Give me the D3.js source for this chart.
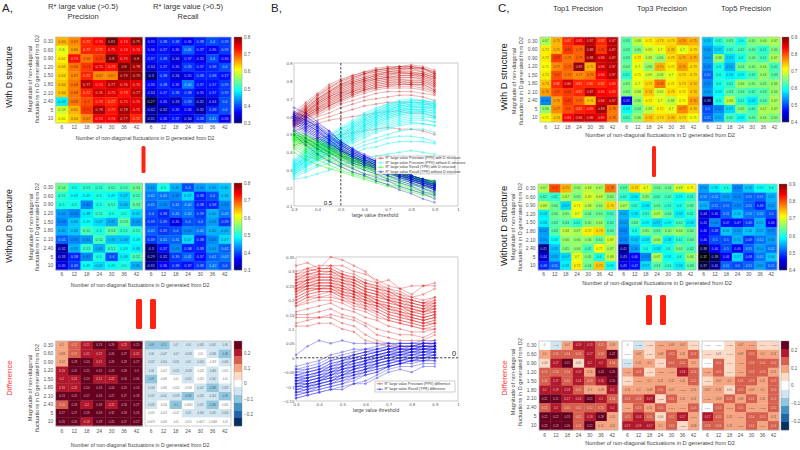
<!DOCTYPE html>
<html>
<head>
<meta charset="utf-8">
<script src="https://cdn.jsdelivr.net/npm/d3@7"></script>
<style>
html, body { margin: 0; padding: 0; background: #fff; }
svg { display: block; }
text { font-family: "Liberation Sans", Arial, sans-serif; }
</style>
</head>
<body>
<svg id="fig" width="800" height="450"></svg>
<script>
const xCats = [6, 12, 18, 24, 30, 36, 42];
const yCats = ["0.30", "0.60", "0.90", "1.20", "1.50", "1.80", "2.10", "2.40", "5", "10"];

// panel A
const aPrecWith = [[.65,.67,.72,.74,.81,.74,.79],[.6,.66,.72,.72,.75,.74,.74],[.62,.73,.68,.71,.8,.75,.8],[.63,.68,.71,.75,.73,.8,.78],[.63,.67,.72,.67,.67,.79,.79],[.64,.68,.77,.74,.77,.76,.75],[.64,.68,.72,.76,.75,.73,.77],[.48,.68,.7,.73,.72,.75,.75],[.59,.65,.71,.78,.73,.78,.75],[.61,.64,.67,.74,.74,.77,.72]];
const aRecWith = [[.35,.38,.38,.36,.38,.4,.39],[.36,.37,.36,.41,.37,.36,.39],[.37,.38,.34,.37,.35,.4,.36],[.34,.37,.35,.39,.37,.38,.4],[.3,.38,.34,.35,.38,.38,.37],[.36,.38,.36,.42,.37,.37,.39],[.34,.37,.38,.38,.35,.37,.39],[.27,.35,.33,.39,.32,.34,.4],[.32,.32,.36,.36,.32,.38,.4],[.31,.36,.37,.34,.38,.41,.36]];
const aPrecWithout = [[.54,.5,.51,.51,.52,.52,.54],[.51,.49,.49,.5,.49,.47,.52],[.5,.5,.43,.5,.51,.46,.53],[.44,.43,.48,.51,.5,.5,.47],[.43,.46,.49,.47,.45,.53,.44],[.45,.46,.52,.5,.53,.51,.51],[.41,.43,.44,.52,.46,.46,.49],[.32,.45,.51,.45,.51,.49,.48],[.33,.38,.43,.5,.4,.48,.52],[.35,.39,.49,.47,.49,.5,.45]];
const aRecWithout = [[.44,.5,.45,.4,.44,.45,.46],[.42,.42,.43,.47,.38,.4,.46],[.41,.43,.41,.42,.38,.38,.43],[.4,.38,.41,.42,.39,.45,.42],[.39,.39,.35,.4,.4,.44,.39],[.41,.39,.4,.43,.42,.45,.45],[.39,.41,.41,.47,.38,.43,.47],[.3,.37,.43,.38,.38,.44,.41],[.29,.32,.39,.41,.37,.41,.42],[.31,.36,.38,.37,.39,.42,.4]];
const aPrecDiff = [[.1,.17,.21,.23,.29,.22,.25],[.088,.17,.22,.22,.26,.27,.22],[.12,.23,.24,.21,.29,.29,.27],[.19,.25,.25,.25,.23,.29,.3],[.2,.21,.23,.21,.22,.26,.34],[.19,.22,.24,.24,.24,.25,.24],[.23,.25,.27,.24,.27,.27,.28],[.16,.23,.2,.28,.22,.26,.27],[.27,.27,.28,.29,.32,.29,.23],[.26,.25,.18,.28,.25,.27,.27]];
const aRecDiff = [[-.09,-.11,-.07,-.04,-.065,-.045,-.06],[-.06,-.047,-.07,-.058,-.01,-.036,-.08],[-.047,-.054,-.061,-.05,-.045,-.019,-.044],[-.06,-.012,-.052,-.028,-.018,-.066,-.025],[-.09,-.009,-.01,-.052,-.019,-.062,-.02],[-.049,-.005,-.024,-.018,-.047,-.086,-.059],[-.047,-.041,-.028,-.086,-.035,-.054,-.08],[-.035,-.016,-.1,-.0063,-.057,-.086,-.005],[.024,-.013,-.021,-.05,-.049,-.031,-.026],[.0075,-.005,-.01,-.025,-.0057,-.0083,-.02]];

// panel C
const top1With = [[.67,.75,.82,.85,.87,.82,.87],[.72,.75,.81,.79,.88,.81,.87],[.72,.81,.78,.79,.88,.86,.87],[.71,.77,.79,.89,.75,.86,.87],[.72,.8,.78,.77,.78,.84,.87],[.74,.82,.86,.82,.82,.82,.83],[.76,.8,.81,.82,.87,.84,.83],[.53,.76,.81,.79,.74,.86,.87],[.66,.77,.8,.82,.83,.88,.78],[.71,.74,.84,.86,.86,.85,.78]];
const top3With = [[.63,.68,.72,.73,.73,.76,.75],[.63,.65,.69,.7,.74,.7,.73],[.63,.72,.68,.66,.73,.75,.75],[.64,.7,.66,.75,.72,.76,.73],[.61,.71,.69,.68,.7,.73,.73],[.65,.7,.73,.78,.72,.73,.74],[.65,.68,.74,.69,.73,.72,.74],[.45,.66,.72,.7,.68,.71,.76],[.59,.64,.68,.72,.7,.77,.74],[.62,.66,.74,.73,.74,.73,.71]];
const top5With = [[.56,.61,.63,.6,.65,.66,.67],[.54,.57,.61,.62,.63,.61,.65],[.54,.66,.57,.6,.64,.62,.67],[.53,.6,.55,.64,.65,.66,.62],[.51,.6,.58,.59,.62,.66,.63],[.53,.6,.61,.66,.65,.65,.66],[.54,.59,.63,.63,.62,.63,.66],[.39,.6,.68,.61,.58,.63,.67],[.5,.53,.57,.65,.62,.67,.67],[.51,.55,.62,.59,.63,.66,.65]];
const top1Without = [[.67,.8,.75,.66,.68,.67,.78],[.62,.61,.67,.65,.69,.68,.65],[.68,.64,.57,.71,.68,.66,.73],[.58,.64,.65,.7,.64,.64,.62],[.58,.63,.63,.61,.65,.66,.62],[.54,.63,.68,.67,.72,.73,.63],[.54,.59,.66,.66,.66,.64,.69],[.41,.56,.65,.66,.62,.71,.67],[.44,.55,.57,.7,.65,.6,.68],[.48,.51,.58,.72,.64,.74,.59]];
const top3Without = [[.63,.73,.7,.64,.64,.69,.71],[.61,.58,.65,.62,.62,.59,.61],[.67,.61,.58,.63,.61,.6,.63],[.55,.58,.61,.67,.63,.58,.61],[.54,.63,.59,.57,.59,.62,.58],[.53,.6,.65,.63,.65,.66,.64],[.53,.56,.58,.66,.58,.61,.63],[.41,.54,.6,.58,.6,.64,.62],[.43,.46,.53,.67,.59,.6,.66],[.45,.47,.57,.63,.61,.58,.63]];
const top5Without = [[.54,.58,.6,.53,.56,.59,.6],[.52,.52,.54,.53,.51,.51,.55],[.55,.51,.51,.53,.51,.48,.54],[.44,.45,.51,.56,.52,.52,.5],[.45,.53,.47,.47,.49,.55,.46],[.46,.48,.56,.54,.56,.55,.53],[.46,.5,.5,.55,.49,.52,.54],[.38,.46,.5,.46,.51,.54,.52],[.32,.38,.46,.57,.48,.52,.56],[.37,.41,.51,.5,.51,.54,.51]];
const top1Diff = [[0,-.05,.07,.19,.19,.15,.09],[.1,.14,.14,.14,.17,.13,.22],[.04,.17,.21,.05,.2,.2,.14],[.13,.13,.14,.19,.11,.24,.25],[.14,.17,.15,.16,.13,.16,.25],[.2,.19,.18,.15,.1,.09,.2],[.22,.21,.17,.16,.21,.2,.14],[.12,.2,.15,.12,.12,.15,.2],[.22,.22,.23,.12,.18,.28,.11],[.23,.23,.26,.14,.22,.11,.11]];
const top3Diff = [[0,-.055,.023,.083,.09,.07,.043],[.017,.07,.057,.08,.12,.11,.12],[-.046,.11,.1,.063,.12,.15,.1],[.087,.13,.063,.083,.087,.18,.13],[.063,.087,.1,.11,.11,.11,.15],[.11,.1,.08,.15,.07,.073,.11],[.12,.13,.17,.053,.15,.11,.11],[.087,.13,.11,.15,.077,.077,.14],[.15,.16,.15,.06,.12,.17,.087],[.17,.19,.17,.1,.13,.053,.08]];
const top5Diff = [[.016,.016,.035,.07,.089,.064,.053],[.042,.05,.062,.09,.13,.1,.11],[-.009,.15,.066,.075,.13,.14,.13],[.085,.15,.046,.084,.13,.13,.11],[.062,.07,.1,.13,.13,.11,.13],[.07,.11,.05,.13,.09,.1,.13],[.085,.09,.13,.08,.13,.11,.12],[.016,.13,.075,.15,.069,.092,.15],[.17,.15,.11,.079,.14,.15,.11],[.13,.13,.11,.089,.12,.099,.14]];

// panel B, thresholds and curves (values are in hundredths)
const thresholds = [.3,.35,.4,.45,.5,.55,.6,.65,.7,.75,.8,.85,.9];
const precWithCurves = [
[62,68,73,78,81,83,85,87,88,88,89,88,86],[61,66,72,76,80,82,84,86,87,88,88,87,85],[60,65,70,75,78,81,84,85,86,87,87,87,84],[60,64,69,74,77,80,82,84,85,86,87,85,83],
[59,63,68,72,76,79,81,83,84,85,85,84,82],[59,63,67,71,75,78,80,82,83,85,84,83,81],[58,62,67,71,74,77,79,81,82,83,83,82,80],[58,62,66,70,73,76,78,80,81,82,82,81,79],
[58,61,65,69,72,75,77,79,80,81,80,80,78],[57,61,65,68,71,74,76,78,79,79,79,79,77],[57,60,64,67,70,73,75,77,78,78,78,78,75],[56,60,63,66,69,72,74,76,77,77,77,76,74],
[56,59,62,65,68,71,73,75,76,76,76,75,73],[55,58,61,64,67,69,71,73,74,74,74,73,72],[55,57,60,62,65,67,69,70,71,72,72,71,69],[54,56,58,60,62,64,66,67,68,68,68,68,66],
[52,54,56,58,59,60,61,62,63,63,62,62,60],[44,46,48,49,50,51,52,53,54,53,53,52,50],
[61,67,72,77,80,83,85,86,87,88,88,87,85],[60,66,71,76,79,82,84,86,87,87,88,87,84],[60,65,70,74,78,81,83,85,86,87,87,86,84],[59,64,70,74,78,80,82,84,85,86,86,85,83],
[59,64,69,73,77,79,81,83,85,85,85,84,82],[58,63,68,73,76,79,81,83,84,84,84,84,82],[58,62,68,72,75,78,80,82,83,84,84,83,81],[57,62,67,71,74,77,80,81,82,83,83,83,80],
[57,61,66,70,73,76,79,81,82,82,82,82,79],[57,61,65,69,73,75,78,80,81,81,81,81,78],[56,60,64,68,72,74,77,79,80,80,80,80,77],[56,60,64,67,71,74,76,78,79,80,79,79,76],
[55,59,63,66,70,73,75,77,78,79,78,78,75],[55,59,62,66,69,72,75,76,77,78,78,77,74]];
const precWithoutCurves = [
[36,42,46,50,54,58,62,65,67,69,70,69,68],[35,40,45,49,53,56,60,63,66,68,69,69,68],[34,39,43,47,51,55,59,62,65,67,68,68,67],[33,38,42,46,50,54,58,61,64,66,67,67,66],
[33,37,42,45,49,53,57,60,63,65,66,66,65],[32,37,41,44,48,52,56,59,62,64,65,65,64],[32,36,40,43,47,51,55,58,61,63,64,64,63],[31,35,39,43,46,50,54,57,60,62,63,63,62],
[30,35,38,42,45,49,53,56,59,61,62,62,60],[30,34,37,41,44,48,52,55,57,59,60,60,59],[29,33,37,40,43,47,50,53,55,57,58,58,57],[28,32,36,39,42,45,48,51,53,55,56,56,55],
[28,31,35,38,41,43,46,48,50,52,53,53,51],[27,30,33,36,39,41,44,46,48,49,49,48,46],[26,29,32,34,37,39,42,43,45,46,46,46,45],[25,26,28,30,33,35,37,38,39,40,41,40,39],
[35,41,45,49,53,57,61,64,67,68,69,69,67],[34,40,44,48,52,56,60,63,66,67,68,68,67],[34,39,43,47,51,55,59,62,65,67,68,67,66],[33,38,43,46,50,54,58,62,64,66,67,67,66],
[33,37,42,46,49,54,58,61,63,66,66,66,65],[32,37,41,45,49,53,57,60,63,65,66,65,65],[32,36,40,44,48,52,56,60,62,64,65,65,64],[31,36,40,44,47,51,55,59,62,64,64,64,63],
[31,35,39,43,47,50,55,58,61,63,64,63,62],[30,35,39,42,46,50,54,57,60,62,63,63,61],[30,34,38,42,45,49,53,56,59,61,62,62,60],[29,33,37,41,44,48,52,55,58,60,61,61,59],
[28,32,36,40,43,47,51,54,56,58,59,59,57],[29,33,36,39,42,46,49,52,54,56,57,56,55]];
const recWithCurves = [
[52,50,47,45,42,39,36,34,32,30,27,25,23],[51,49,46,44,41,38,35,33,31,29,27,25,23],[50,48,45,43,40,37,35,33,31,29,26,25,23],[50,47,45,42,39,36,34,32,30,28,26,24,22],
[49,46,44,41,38,36,33,31,30,28,26,24,22],[48,46,43,40,38,35,33,31,29,27,25,23,22],[48,45,42,40,37,34,32,30,28,27,25,23,21],[47,44,41,39,36,34,31,29,28,26,24,22,20],
[46,43,40,38,35,33,31,29,27,25,23,21,20],[45,42,39,37,34,32,30,28,26,24,22,21,19],[44,41,38,36,33,31,28,27,25,23,21,19,18],[43,40,37,35,32,29,27,25,24,22,20,18,17],
[42,38,36,33,30,28,26,24,22,21,19,17,16],[40,36,33,31,29,27,25,23,21,20,18,16,15],
[51,49,47,44,41,38,36,34,32,30,27,25,24],[50,48,46,43,41,38,35,33,31,29,27,25,24],[50,48,45,43,40,37,35,33,31,29,27,25,23],[49,47,45,42,40,37,34,32,31,29,26,25,23],
[49,47,44,42,39,36,34,32,30,28,26,24,23],[48,46,44,41,39,36,34,32,30,28,26,24,23],[48,46,43,41,38,36,33,31,30,28,26,24,22],[47,45,43,40,38,35,33,31,29,27,25,24,22],
[47,45,42,40,37,35,32,30,29,27,25,23,22],[46,44,41,39,37,34,32,30,28,27,25,23,21]];
const recWithoutCurves = [
[65,62,57,52,46,42,39,36,33,30,27,25,24],[63,60,55,51,46,42,38,35,33,30,27,25,23],[62,59,54,50,45,41,38,35,32,29,27,25,22],[61,58,54,49,44,40,37,35,32,29,26,24,22],
[60,57,53,48,44,40,37,34,31,28,26,24,21],[60,56,52,47,43,39,36,33,31,28,25,23,21],[59,55,51,47,42,38,35,33,30,27,25,23,20],[58,54,50,46,41,38,35,32,29,27,24,22,20],
[57,53,49,45,41,37,34,31,29,26,24,22,19],[56,52,48,44,40,36,33,31,28,26,23,21,19],[55,51,47,43,39,35,33,30,27,25,23,20,18],[54,50,46,42,38,34,32,29,27,24,22,20,17],
[53,48,44,40,36,33,30,28,25,23,21,18,16],[52,46,42,38,34,31,28,26,24,21,19,17,14],[50,44,39,35,32,29,27,24,22,19,17,14,12],
[62,60,56,52,46,42,38,35,33,30,27,25,23],[61,58,55,50,45,41,38,35,32,30,27,24,22],[60,58,54,49,45,41,37,35,32,29,26,24,22],[60,57,53,49,44,40,37,34,32,29,26,24,21],
[59,56,52,48,44,40,36,34,31,28,26,23,21],[59,56,52,47,43,39,36,33,31,28,25,23,21],[58,55,51,47,42,39,36,33,30,28,25,23,20],[58,54,50,46,42,38,35,32,30,27,25,22,20],
[57,53,49,45,41,38,34,32,29,27,24,22,20],[56,52,48,45,41,37,34,31,29,26,24,22,19]];
const precDiffCurves = [
[32,33,31,35,34,32,30,26,27,24,25,25,26],[29,31,32,32,32,30,29,27,25,24,22,25,25],[28,30,31,31,29,28,26,25,24,22,21,22,24],[27,29,30,30,28,27,25,24,23,21,20,19,21],
[26,27,29,29,27,26,24,23,21,20,19,18,20],[25,27,28,28,27,25,23,22,20,19,18,17,19],[24,26,27,27,26,24,22,21,20,18,17,16,18],[24,25,26,26,25,23,22,20,19,18,16,16,17],
[23,25,25,25,24,23,21,19,18,17,16,15,16],[22,24,24,25,23,22,20,19,17,16,15,14,15],[21,23,24,24,22,21,19,18,16,15,14,13,14],[20,22,23,23,21,20,18,17,15,14,13,12,13],
[19,21,21,22,20,19,17,16,14,13,12,11,12],[18,19,20,20,19,17,16,14,13,12,11,10,11],[16,17,18,19,17,16,14,13,11,10,9,9,10],[15,15,16,17,15,14,12,10,9,8,8,7,9],
[14,14,14,15,14,13,11,8,7,6,6,6,8],[12,13,14,14,12,11,8,6,5,4,4,5,6],[11,11,12,12,10,9,6,5,4,3,3,3,4],
[30,31,30,32,30,29,27,26,24,23,21,20,21],[29,30,31,31,29,28,26,25,23,22,20,19,20],[28,29,30,30,29,27,26,24,23,21,20,19,19],[27,29,29,30,28,27,25,24,22,21,19,18,19],
[27,28,29,29,28,26,24,23,22,20,19,18,18],[26,28,28,28,27,26,24,23,21,20,18,17,18],[26,27,28,28,26,25,23,22,21,19,18,17,17],[25,27,27,27,26,25,23,22,20,19,17,16,17],
[25,26,27,27,25,24,22,21,20,18,17,16,16],[24,26,26,26,25,23,22,20,19,18,16,15,16],[24,25,26,26,24,23,21,20,18,17,15,14,15],[23,25,25,25,24,22,21,19,18,16,15,14,15],
[23,24,25,25,23,22,20,19,17,16,14,13,14],[22,24,24,24,23,21,20,18,17,15,14,13,14],[21,23,24,24,22,21,19,18,16,15,13,12,13],[20,22,23,23,22,20,19,17,15,14,13,12,12],
[19,21,22,23,21,19,18,16,14,13,12,11,12],[18,20,21,21,20,18,17,15,13,12,11,10,10]];
const recDiffCurves = [
[1,4,6,5,6,5,5,5,5,5,5,6,6],[-3,-2,-1,1,2,3,3,4,5,5,5,5,5],[-4,-3,-2,0,1,2,3,3,4,5,5,5,5],[-5,-4,-3,-1,0,1,2,3,3,4,4,5,5],
[-6,-5,-4,-2,-1,0,1,2,3,3,4,4,4],[-7,-6,-5,-3,-2,-1,0,1,2,3,3,4,4],[-7,-7,-5,-4,-3,-1,0,1,2,2,3,3,3],[-8,-7,-6,-5,-3,-2,-1,0,1,2,2,3,3],
[-8,-8,-7,-5,-4,-3,-1,0,1,1,2,2,3],[-9,-8,-7,-6,-4,-3,-2,-1,0,1,1,2,2],[-9,-9,-8,-6,-5,-4,-2,-1,0,0,1,1,2],[-10,-9,-8,-7,-6,-4,-3,-2,-1,0,0,1,1],
[-10,-10,-9,-8,-6,-5,-4,-2,-1,-1,0,0,1],[-11,-10,-9,-8,-7,-6,-4,-3,-2,-1,-1,0,0],[-12,-11,-10,-9,-8,-6,-5,-4,-3,-2,-1,-1,0],[-13,-12,-11,-10,-9,-8,-6,-5,-3,-2,-2,-1,-1],
[-14,-13,-12,-11,-11,-9,-8,-6,-4,-3,-3,-2,-2],[-14,-13,-12,-11,-10,-9,-9,-7,-5,-4,-5,-3,-3],
[-4,-4,-3,-1,0,1,2,3,4,4,4,5,5],[-5,-5,-4,-2,-1,1,2,2,3,4,4,4,5],[-6,-5,-4,-3,-1,0,1,2,3,4,4,4,4],[-6,-6,-5,-3,-2,0,1,2,3,3,3,4,4],
[-7,-6,-5,-4,-2,-1,0,1,2,3,3,4,4],[-7,-7,-6,-4,-3,-1,0,1,2,2,3,3,4],[-8,-7,-6,-5,-3,-2,-1,1,1,2,3,3,3],[-8,-8,-7,-5,-4,-2,-1,0,1,2,2,3,3],
[-9,-8,-7,-6,-4,-3,-2,0,1,1,2,2,3],[-9,-9,-8,-6,-5,-3,-2,-1,0,1,2,2,2],[-10,-9,-8,-7,-5,-4,-3,-1,0,1,1,2,2],[-10,-10,-8,-7,-6,-4,-3,-2,-1,0,1,1,2],
[-11,-10,-9,-8,-6,-5,-4,-2,-1,0,0,1,1],[-11,-11,-9,-8,-7,-5,-4,-3,-2,-1,0,0,1],[-12,-11,-10,-9,-7,-6,-5,-3,-2,-1,0,0,0],[-12,-12,-10,-9,-8,-7,-5,-4,-3,-2,-1,0,0],
[-13,-12,-11,-10,-9,-7,-6,-5,-3,-2,-1,-1,-1]];

const xTitle = "Number of non-diagonal fluctuations in D generated from D2";
const legendTop = ["R* large value Precision (PPV) with D structure","R* large value Precision (PPV) without D structure","R* large value Recall (TPR) with D structure","R* large value Recall (TPR) without D structure"];
const legendBottom = ["R* large value Precision (PPV) difference","R* large value Recall (TPR) difference"];

const svg = d3.select("#fig");
const greyText = "#555";

// colours
const jetStops = ["#00007f","#0000ff","#007fff","#00ffff","#7fff7f","#ffff00","#ff7f00","#ff0000","#7f0000"];
const rdbuStops = ["#053061","#2166ac","#4393c3","#92c5de","#d1e5f0","#ffffff","#fddbc7","#f4a582","#d6604d","#b2182b","#67001f"];

function jetScale(lo, hi) {
    return d3.scaleLinear()
        .domain(jetStops.map((c, i) => lo + (hi - lo) * i / (jetStops.length - 1)))
        .range(jetStops);
}
function diffScale(hi) {
    return d3.scaleQuantize().domain([-hi, hi]).range(rdbuStops);
}

function heatmap(data, color, x0, x1, y0, y1, fs) {
    const g = svg.append("g");
    const x = d3.scaleBand().domain(xCats).range([x0, x1]);
    const y = d3.scaleBand().domain(yCats).range([y0, y1]);
    const cells = g.selectAll("g")
        .data(data.flatMap((row, r) => row.map((v, c) => ({ v: v, r: yCats[r], c: xCats[c] }))))
        .enter()
        .append("g");
    cells.append("rect")
        .attr("x", d => x(d.c))
        .attr("y", d => y(d.r))
        .attr("width", x.bandwidth() + .3)
        .attr("height", y.bandwidth() + .3)
        .attr("fill", d => color(d.v));
    cells.append("text")
        .attr("x", d => x(d.c) + x.bandwidth() / 2)
        .attr("y", d => y(d.r) + y.bandwidth() / 2 + fs * .35)
        .attr("text-anchor", "middle")
        .attr("font-size", d => String(d.v).length > 4 ? fs * .85 : fs)
        .attr("fill", d => d3.lab(color(d.v)).l < 56 ? "#fff" : "#222")
        .attr("fill-opacity", .72)
        .text(d => String(d.v));
    g.append("rect")
        .attr("x", x0).attr("y", y0)
        .attr("width", x1 - x0).attr("height", y1 - y0)
        .attr("fill", "none").attr("stroke", "#bbb").attr("stroke-width", .7);
    return { x: x, y: y };
}

function bandTicks(scale, orient, pos, fs) {
    const ax = orient === "bottom" ? d3.axisBottom(scale) : d3.axisLeft(scale);
    const g = svg.append("g")
        .attr("transform", orient === "bottom" ? `translate(0,${pos})` : `translate(${pos},0)`)
        .call(ax.tickSize(0).tickPadding(0));
    g.select(".domain").remove();
    g.selectAll("text").attr("fill", greyText).attr("font-size", fs).attr("font-family", null);
}

function colorbar(color, lo, hi, ticks, x0, x1, y0, y1, fmt) {
    const y = d3.scaleLinear().domain([lo, hi]).range([y1, y0]);
    const steps = d3.range(y1 - y0);
    svg.append("g").selectAll("rect")
        .data(steps)
        .enter()
        .append("rect")
        .attr("x", x0)
        .attr("y", d => y0 + d)
        .attr("width", x1 - x0)
        .attr("height", 1.2)
        .attr("fill", d => color(y.invert(y0 + d + .5)));
    svg.append("rect")
        .attr("x", x0).attr("y", y0)
        .attr("width", x1 - x0).attr("height", y1 - y0)
        .attr("fill", "none").attr("stroke", "#888").attr("stroke-width", .4);
    const g = svg.append("g")
        .attr("transform", `translate(${x1},0)`)
        .call(d3.axisRight(y).tickValues(ticks).tickSize(0).tickPadding(2).tickFormat(fmt));
    g.select(".domain").remove();
    g.selectAll("text").attr("fill", greyText).attr("font-size", 4.6).attr("font-family", null);
}

function label(txt, x, y, fs, opts) {
    opts = opts || {};
    const t = svg.append("text")
        .attr("text-anchor", opts.anchor || "middle")
        .attr("font-size", fs)
        .attr("fill", opts.fill || "#333")
        .text(txt);
    if (opts.rot) t.attr("transform", `translate(${x},${y}) rotate(-90)`);
    else t.attr("x", x).attr("y", y);
    return t;
}

// one row of heatmaps sharing a colour scale
function heatRow(row) {
    row.maps.forEach((m, i) => {
        const s = heatmap(m, row.color, row.xs[i][0], row.xs[i][1], row.y0, row.y1, row.fs);
        bandTicks(s.x, "bottom", row.tickY, 5);
        if (i === 0) bandTicks(s.y, "left", row.xs[0][0] - 2.5, 5);
    });
    colorbar(row.color, row.lo, row.hi, row.ticks, row.cb[0], row.cb[1], row.y0, row.y1, row.fmt);
    label(xTitle, row.xt[0], row.xt[1], row.xtSize, { fill: "#444" });
    label("Magnitude of non-diagonal", row.yt[0], row.yt[2], 5.6, { rot: true, fill: "#444" });
    label("fluctuations in D generated from D2", row.yt[1], row.yt[2], 5.6, { rot: true, fill: "#444" });
}

const fmt1 = d => String(d);
const fmtDiff = d => d === 0 ? "0" : d3.format(".1f")(d);

const jetA = jetScale(.3, .8);
const jetC = jetScale(.4, .9);
const ticksA = [.3, .4, .5, .6, .7, .8];
const ticksC = [.4, .5, .6, .7, .8, .9];
const ticksD = [-.2, -.1, 0, .1, .2];

heatRow({ maps: [aPrecWith, aRecWith], color: jetA, lo: .3, hi: .8, ticks: ticksA, fmt: fmt1, fs: 3.8,
    xs: [[55.7, 142.7], [145, 231]], y0: 37, y1: 123, tickY: 125, cb: [234, 242], xt: [145, 140], xtSize: 5.2, yt: [32, 38.5, 79] });
heatRow({ maps: [aPrecWithout, aRecWithout], color: jetA, lo: .3, hi: .8, ticks: ticksA, fmt: fmt1, fs: 3.8,
    xs: [[55.7, 142.7], [145, 231]], y0: 183, y1: 270, tickY: 272, cb: [234, 242], xt: [140, 287], xtSize: 5.2, yt: [32.5, 39, 227] });
heatRow({ maps: [aPrecDiff, aRecDiff], color: diffScale(.28), lo: -.28, hi: .28, ticks: ticksD, fmt: fmtDiff, fs: 3,
    xs: [[55.7, 142.7], [145, 231]], y0: 341, y1: 426, tickY: 429, cb: [234, 242], xt: [140, 447], xtSize: 5.2, yt: [32, 39, 388] });

heatRow({ maps: [top1With, top3With, top5With], color: jetC, lo: .4, hi: .9, ticks: ticksC, fmt: fmt1, fs: 3.4,
    xs: [[540, 618], [621, 699], [702, 780]], y0: 37, y1: 122, tickY: 125, cb: [782, 789], xt: [660, 137], xtSize: 5.6, yt: [516, 523, 81] });
heatRow({ maps: [top1Without, top3Without, top5Without], color: jetC, lo: .4, hi: .9, ticks: ticksC, fmt: fmt1, fs: 3.4,
    xs: [[538, 616], [618, 696], [698, 777]], y0: 184, y1: 270, tickY: 272, cb: [779, 787], xt: [657, 284.5], xtSize: 5.6, yt: [515, 522, 227] });
heatRow({ maps: [top1Diff, top3Diff, top5Diff], color: diffScale(.25), lo: -.25, hi: .25, ticks: ticksD, fmt: fmtDiff, fs: 2.9,
    xs: [[539, 618], [622, 699], [702, 779]], y0: 341, y1: 430, tickY: 433, cb: [781, 789], xt: [660, 445], xtSize: 5.6, yt: [515, 522, 382] });

// panel titles
label("A,", 2, 12, 11.5, { anchor: "start", fill: "#222" });
label("B,", 271, 12, 11.5, { anchor: "start", fill: "#222" });
label("C,", 498, 12, 11.5, { anchor: "start", fill: "#222" });
label("R* large value (>0.5)", 83, 9, 7.6);
label("Precision", 83, 19, 7.6);
label("R* large value (>0.5)", 188, 9, 7.6);
label("Recall", 188, 19, 7.6);
label("Top1 Precision", 578, 10.5, 7.6);
label("Top3 Precision", 662, 10.5, 7.6);
label("Top5 Precision", 746, 10.5, 7.6);

label("With D structure", 12, 77, 8.6, { rot: true, fill: "#111" });
label("Without D structure", 12, 226, 8.6, { rot: true, fill: "#111" });
label("Difference", 12, 378, 7.8, { rot: true, fill: "#ff2a2a" });
label("With D structure", 507, 77, 9.4, { rot: true, fill: "#111" });
label("Without D structure", 507, 226, 9.4, { rot: true, fill: "#111" });
label("Difference", 507, 378, 7.8, { rot: true, fill: "#ff2a2a" });

// red equal-sign style bars
const bars = [[141.5, 146, 4, 27], [136, 299, 6, 30], [150, 299, 6, 30], [652, 146, 4, 31], [646, 295, 6, 30], [660, 295, 6, 30]];
svg.append("g").selectAll("rect")
    .data(bars)
    .enter()
    .append("rect")
    .attr("x", d => d[0])
    .attr("y", d => d[1])
    .attr("width", d => d[2])
    .attr("height", d => d[3])
    .attr("rx", 1.5)
    .attr("fill", "#ff2412");

// line panels
function linePanel(cfg) {
    const x = d3.scaleLinear().domain([.3, 1]).range([cfg.x0, cfg.x1]);
    const y = d3.scaleLinear().domain(cfg.yDomain).range([cfg.y1, cfg.y0]);
    const line = d3.line().x((d, i) => x(thresholds[i])).y(d => y(d / 100));

    svg.append("rect")
        .attr("x", cfg.x0).attr("y", cfg.y0)
        .attr("width", cfg.x1 - cfg.x0).attr("height", cfg.y1 - cfg.y0)
        .attr("fill", "#fff").attr("stroke", "#aaa").attr("stroke-width", .6);

    cfg.groups.forEach(grp => {
        const g = svg.append("g");
        g.selectAll("path")
            .data(grp.curves)
            .enter()
            .append("path")
            .attr("d", line)
            .attr("fill", "none")
            .attr("stroke", grp.color)
            .attr("stroke-opacity", grp.alpha)
            .attr("stroke-width", .7);
        g.selectAll("circle")
            .data(grp.curves.flatMap(c => c.map((v, i) => [thresholds[i], v])))
            .enter()
            .append("circle")
            .attr("cx", d => x(d[0]))
            .attr("cy", d => y(d[1] / 100))
            .attr("r", 1)
            .attr("fill", grp.color)
            .attr("fill-opacity", .2)
            .attr("stroke", grp.color)
            .attr("stroke-opacity", grp.alpha)
            .attr("stroke-width", .5);
    });

    const ax = svg.append("g")
        .attr("transform", `translate(0,${cfg.y1})`)
        .call(d3.axisBottom(x).tickValues(cfg.xTicks).tickSize(0).tickPadding(2).tickFormat(d3.format("~g")));
    ax.select(".domain").remove();
    const ay = svg.append("g")
        .attr("transform", `translate(${cfg.x0},0)`)
        .call(d3.axisLeft(y).tickValues(cfg.yTicks).tickSize(0).tickPadding(1.5).tickFormat(d3.format("~g")));
    ay.select(".domain").remove();
    [ax, ay].forEach(a => a.selectAll("text").attr("fill", greyText).attr("font-size", 4.4).attr("font-family", null));

    label("large value threshold", (cfg.x0 + cfg.x1) / 2 - 1, cfg.y1 + 11, 5, { fill: "#444" });

    // guide line
    const gl = cfg.guide;
    svg.append("line")
        .attr("x1", gl.axis === "x" ? x(gl.v) : cfg.x0)
        .attr("x2", gl.axis === "x" ? x(gl.v) : cfg.x1)
        .attr("y1", gl.axis === "x" ? cfg.y0 : y(gl.v))
        .attr("y2", gl.axis === "x" ? cfg.y1 : y(gl.v))
        .attr("stroke", "#333")
        .attr("stroke-width", .9)
        .attr("stroke-dasharray", "2.5,1.5");

    // legend
    const lg = cfg.legend;
    const h = (lg.y1 - lg.y0) / cfg.groups.length;
    svg.append("rect")
        .attr("x", lg.x0).attr("y", lg.y0)
        .attr("width", lg.x1 - lg.x0).attr("height", lg.y1 - lg.y0)
        .attr("fill", "#fff").attr("stroke", "#888").attr("stroke-width", .4);
    cfg.groups.forEach((grp, i) => {
        const cy = lg.y0 + h * (i + .5);
        svg.append("line")
            .attr("x1", lg.x0 + 1.5).attr("x2", lg.x0 + 8)
            .attr("y1", cy).attr("y2", cy)
            .attr("stroke", grp.color).attr("stroke-width", .5);
        svg.append("circle")
            .attr("cx", lg.x0 + 4.7).attr("cy", cy).attr("r", .9)
            .attr("fill", "none").attr("stroke", grp.color).attr("stroke-width", .4);
        label(cfg.legendText[i], lg.x0 + 9.5, cy + 1.2, 3.6, { anchor: "start", fill: "#333" });
    });
}

linePanel({
    x0: 294, x1: 458, y0: 63, y1: 206,
    yDomain: [.1, .9],
    xTicks: [.3, .4, .5, .6, .7, .8, .9, 1],
    yTicks: [.1, .2, .3, .4, .5, .6, .7, .8, .9],
    groups: [
        { curves: precWithCurves, color: "#c41818", alpha: .45 },
        { curves: precWithoutCurves, color: "#22f4f4", alpha: .75 },
        { curves: recWithCurves, color: "#14f014", alpha: .65 },
        { curves: recWithoutCurves, color: "#1414e0", alpha: .5 }
    ],
    guide: { axis: "x", v: .5 },
    legend: { x0: 376, x1: 455, y0: 156, y1: 174 },
    legendText: legendTop
});
linePanel({
    x0: 296, x1: 458, y0: 257, y1: 401,
    yDomain: [-.15, .35],
    xTicks: [.3, .4, .5, .6, .7, .8, .9, 1],
    yTicks: [-.15, -.1, -.05, 0, .05, .1, .15, .2, .25, .3, .35],
    groups: [
        { curves: precDiffCurves, color: "#e02020", alpha: .5 },
        { curves: recDiffCurves, color: "#1414e8", alpha: .5 }
    ],
    guide: { axis: "y", v: 0 },
    legend: { x0: 375, x1: 455, y0: 381, y1: 392 },
    legendText: legendBottom
});

label("0.5", 328, 205, 6.2, { fill: "#222" });
label("0", 454, 356, 7.4, { fill: "#222" });
</script>
</body>
</html>
